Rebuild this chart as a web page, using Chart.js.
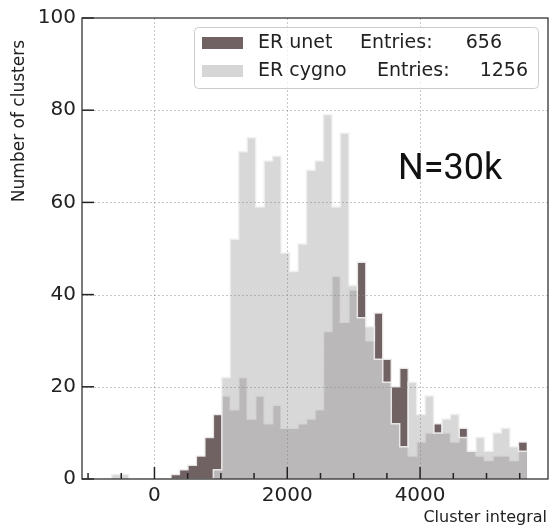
<!DOCTYPE html>
<html>
<head>
<meta charset="utf-8">
<script src="https://cdn.jsdelivr.net/npm/chart.js@4"></script>
<style>
html,body{margin:0;padding:0;background:#fff}
</style>
</head>
<body>
<canvas id="histChart" width="549" height="528"></canvas>
<script>
// bin edges (cluster integral) - 50 bins
const binEdges=[-772,-644,-517,-389,-262,-134,-7,121,249,376,504,631,759,887,1014,1142,1269,1397,1524,1652,
  1780,1907,2035,2162,2290,2418,2545,2673,2800,2928,3055,3183,3311,3438,3566,3693,3821,3948,4076,4204,
  4331,4459,4586,4714,4842,4969,5097,5224,5352,5480,5607];
const unetCounts=[0,0,0,0,0,0,0,0,1,2,3,5,9,14,18,15,22,13,18,12,
  16,11,11,12,13,15,32,44,34,41,47,30,36,26,20,24,5,8,10,12,
  10,8,11,6,5,4,5,5,4,8];
const cygnoCounts=[0,1,1,0,0,0,0,0,0,0,0,0,0,2,22,52,71,74,59,69,
  70,49,45,51,67,69,79,59,75,42,35,33,26,21,12,7,21,14,18,10,
  13,14,9,6,9,6,10,11,7,6];
const seriesNames=['ER unet','ER cygno'];
const seriesEntries=[656,1256];
const xTicks=[0,2000,4000];
const xMinorTicks=[-1000,-500,500,1000,1500,2500,3000,3500,4500,5000,5500];
const yTicks=[0,20,40,60,80,100];

const unetColor='#706163';
const cygnoColor='rgba(206,206,206,0.8)';
const cygnoPatch='#d6d6d6';
const edgeColor='rgba(242,238,238,0.9)';

function stepPoints(counts){
    return binEdges.map((e,i)=>({x:e,y:counts[Math.min(i,counts.length-1)]}));
}

const decor={
    id:'decor',
    afterDatasetsDraw(chart){
        const {ctx,chartArea:a,scales:{x,y}}=chart;
        ctx.save();
        // dotted grid over the bars
        ctx.strokeStyle='rgba(130,130,130,0.45)';
        ctx.lineWidth=1;
        ctx.setLineDash([2,2]);
        xTicks.forEach(v=>{
            const px=Math.round(x.getPixelForValue(v))+0.5;
            ctx.beginPath();ctx.moveTo(px,a.top);ctx.lineTo(px,a.bottom);ctx.stroke();
        });
        yTicks.forEach(v=>{
            if(v===0||v===100)return;
            const py=Math.round(y.getPixelForValue(v))+0.5;
            ctx.beginPath();ctx.moveTo(a.left,py);ctx.lineTo(a.right,py);ctx.stroke();
        });
        ctx.setLineDash([]);
        // inward ticks
        ctx.strokeStyle='#222';
        ctx.lineWidth=1.5;
        xTicks.forEach(v=>{
            const px=x.getPixelForValue(v);
            ctx.beginPath();ctx.moveTo(px,a.bottom);ctx.lineTo(px,a.bottom-12);ctx.stroke();
        });
        xMinorTicks.forEach(v=>{
            const px=x.getPixelForValue(v);
            ctx.beginPath();ctx.moveTo(px,a.bottom);ctx.lineTo(px,a.bottom-6);ctx.stroke();
        });
        yTicks.forEach(v=>{
            const py=y.getPixelForValue(v);
            ctx.beginPath();ctx.moveTo(a.left,py);ctx.lineTo(a.left+12,py);ctx.stroke();
        });
        // frame
        ctx.strokeStyle='#333';
        ctx.lineWidth=1.3;
        ctx.strokeRect(a.left,a.top,a.right-a.left,a.bottom-a.top);
        // legend box
        ctx.fillStyle='rgba(255,255,255,0.8)';
        ctx.strokeStyle='#cccccc';
        ctx.lineWidth=1;
        ctx.beginPath();
        ctx.roundRect(194.5,27.5,344,61,4);
        ctx.fill();ctx.stroke();
        const patches=[unetColor,cygnoPatch];
        const rowY=[43,71];
        const entX=[360,377];
        const numX=[502,528];
        ctx.font='19px "DejaVu Sans"';
        ctx.textBaseline='middle';
        seriesNames.forEach((n,i)=>{
            ctx.fillStyle=patches[i];
            ctx.fillRect(202,rowY[i]-6,41,12);
            ctx.fillStyle='#222';
            ctx.textAlign='left';
            ctx.fillText(n,258,rowY[i]);
            ctx.fillText('Entries:',entX[i],rowY[i]);
            ctx.textAlign='right';
            ctx.fillText(String(seriesEntries[i]),numX[i],rowY[i]);
        });
        // annotation
        ctx.textAlign='left';
        ctx.font='36px Roboto';
        ctx.fillStyle='#111';
        ctx.fillText('N=30k',398,170);
        // axis titles
        ctx.font='16px "DejaVu Sans"';
        ctx.fillStyle='#222';
        ctx.textAlign='right';
        ctx.fillText('Cluster integral',547,518);
        ctx.font='17px "DejaVu Sans"';
        ctx.translate(20,40);
        ctx.rotate(-Math.PI/2);
        ctx.fillText('Number of clusters',0,0);
        ctx.restore();
    }
};

const ctx=document.getElementById('histChart').getContext('2d');
window.histChart=new Chart(ctx,{
    type:'line',
    data:{datasets:[
        {label:seriesNames[0],data:stepPoints(unetCounts),stepped:true,fill:'origin',
         backgroundColor:unetColor,borderColor:edgeColor,borderWidth:1.5,pointRadius:0,order:2},
        {label:seriesNames[1],data:stepPoints(cygnoCounts),stepped:true,fill:'origin',
         backgroundColor:cygnoColor,borderColor:edgeColor,borderWidth:1.5,pointRadius:0,order:1}
    ]},
    options:{
        responsive:false,animation:false,devicePixelRatio:1,
        layout:{padding:{top:17,right:1,left:0,bottom:0}},
        plugins:{legend:{display:false},tooltip:{enabled:false}},
        scales:{
            x:{type:'linear',min:-1091,max:5926,
               grid:{display:false,drawTicks:false},border:{display:false},
               afterBuildTicks:s=>{s.ticks=xTicks.map(v=>({value:v}));},
               afterFit:s=>{s.height=49;},
               ticks:{font:{family:'DejaVu Sans',size:20},color:'#222',padding:5,maxRotation:0,autoSkip:false,
                      callback:v=>String(v)}},
            y:{type:'linear',min:0,max:100,
               grid:{display:false,drawTicks:false},border:{display:false},
               afterBuildTicks:s=>{s.ticks=yTicks.map(v=>({value:v}));},
               afterFit:s=>{s.width=82;},
               ticks:{font:{family:'DejaVu Sans',size:20},color:'#222',padding:6,
                      callback:v=>String(v)}}
        }
    },
    plugins:[decor]
});
</script>
</body>
</html>
